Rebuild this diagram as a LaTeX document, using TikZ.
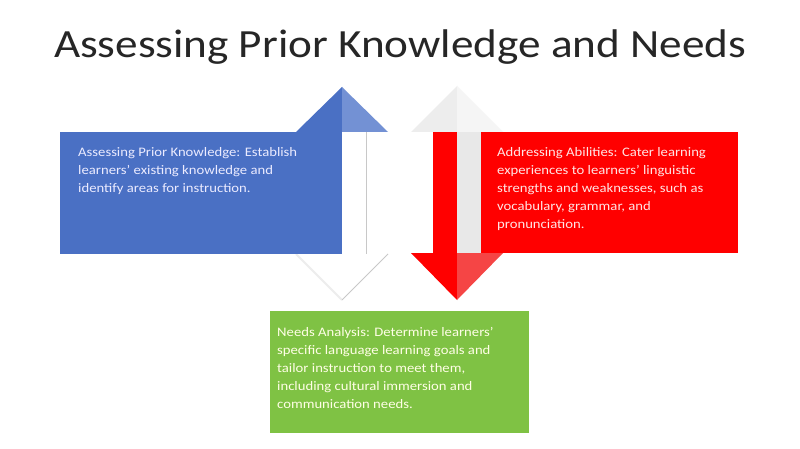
\documentclass[tikz,border=0pt]{standalone}
\usepackage{fontspec}
\setmainfont{Carlito}[FakeStretch=1.13]
\usetikzlibrary{positioning}

\definecolor{boxBlue}{HTML}{4A70C4}
\definecolor{headBlue}{HTML}{7391D4}
\definecolor{boxRed}{HTML}{FF0000}
\definecolor{headRed}{HTML}{F54545}
\definecolor{boxGreen}{HTML}{7FC244}
\definecolor{paleGray}{HTML}{EDEDED}
\definecolor{lineGray}{HTML}{C8C8C8}

\begin{document}
\begin{tikzpicture}[x=1pt,y=-1pt,
        blueBox/.style = {fill=boxBlue,anchor=north west,inner sep=0pt},
        redBox/.style = {fill=boxRed,anchor=north west,inner sep=0pt},
        greenBox/.style = {fill=boxGreen,anchor=north west,inner sep=0pt},
        boxText/.style = {anchor=north west,inner sep=0pt,align=left,font=\fontsize{13}{18}\selectfont},
        titleNode/.style = {anchor=base,inner sep=0pt,text=black!85,font=\fontsize{40}{48}\selectfont},
        rimLine/.style = {draw=lineGray,line width=0.8pt}
        ]
        \useasboundingbox[fill=white] (0,0) rectangle (800,449);
        \node[titleNode] (title) at (400,58) {Assessing Prior Knowledge and Needs};
        % up-down arrow on the left, blue on top
        \fill[boxBlue] (342,87) -- (296,132) -- (342,132) -- cycle;
        \fill[headBlue] (342,87) -- (388,132) -- (342,132) -- cycle;
        \fill[boxBlue] (318,132) rectangle (342,254);
        \fill[white] (342,132) rectangle (366,254);
        \draw[rimLine] (366,132) -- (366,254);
        \draw[paleGray,line width=2pt] (296,254) -- (342,300);
        \draw[rimLine] (388,254) -- (342,300);
        % up-down arrow on the right, red below
        \fill[paleGray] (457,86) -- (411,132) -- (457,132) -- cycle;
        \fill[black!4] (457,86) -- (503,132) -- (457,132) -- cycle;
        \fill[boxRed] (433,132) rectangle (457,253);
        \fill[black!9] (457,132) rectangle (481,253);
        \fill[boxRed] (411,253) -- (457,300) -- (457,253) -- cycle;
        \fill[headRed] (457,253) -- (503,253) -- (457,300) -- cycle;
        % boxes
        \node[blueBox,minimum width=280pt,minimum height=122pt] (prior) at (60,132) {};
        \node[redBox,minimum width=257pt,minimum height=121pt] (abilities) at (481,132) {};
        \node[greenBox,minimum width=259pt,minimum height=122pt] (needs) at (270,311) {};
        \node[boxText,text=white!92!blue] (priorText) at ([xshift=18pt,yshift=-15pt]prior.north west)
            {Assessing Prior Knowledge: Establish\\learners' existing knowledge and\\identify areas for instruction.};
        \node[boxText,text=white!90!red] (abilitiesText) at ([xshift=16pt,yshift=-15pt]abilities.north west)
            {Addressing Abilities: Cater learning\\experiences to learners' linguistic\\strengths and weaknesses, such as\\vocabulary, grammar, and\\pronunciation.};
        \node[boxText,text=white!90!yellow] (needsText) at ([xshift=7pt,yshift=-16pt]needs.north west)
            {Needs Analysis: Determine learners'\\specific language learning goals and\\tailor instruction to meet them,\\including cultural immersion and\\communication needs.};
    \end{tikzpicture}
\end{document}
